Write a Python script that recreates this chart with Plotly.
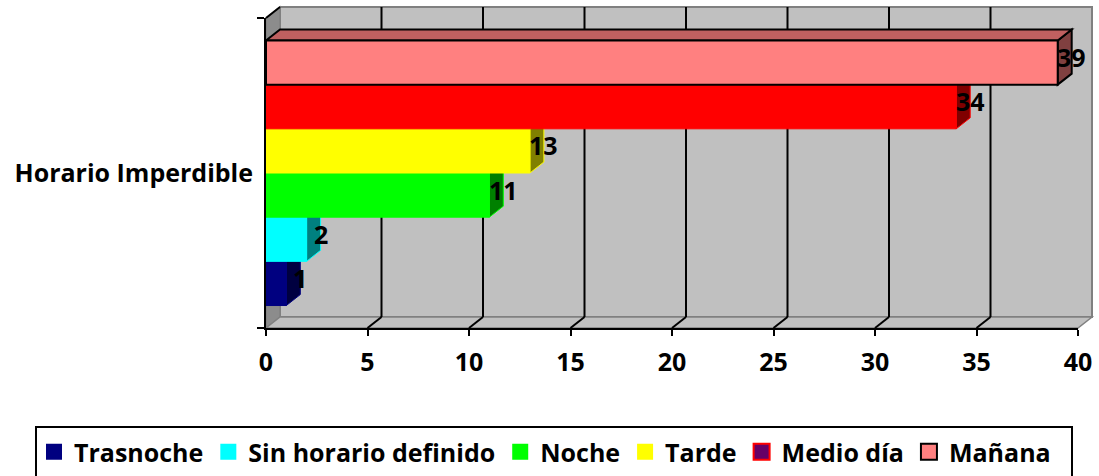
import plotly.graph_objects as go

# ---------------- data ----------------
CATEGORY = "Horario Imperdible"
SERIES = ["Trasnoche", "Sin horario definido", "Noche", "Tarde", "Medio día", "Mañana"]
VALUES = [1, 2, 11, 13, 34, 39]
X_TICKS = [0, 5, 10, 15, 20, 25, 30, 35, 40]

# ---------------- styles ----------------
FRONT = ["#000080", "#00FFFF", "#00FF00", "#FFFF00", "#FF0000", "#FF8080"]
SIDE = ["#000040", "#008080", "#008000", "#808000", "#800000", "#804040"]
TOP = ["#000060", "#00C0C0", "#00C000", "#C0C000", "#C00000", "#C06060"]
OUTLINE = ["#000080", "#00FFFF", "#00FF00", "#FFFF00", "#FF0000", "#000000"]
OUTLINE_W = [1, 1, 1, 1, 1, 2]
LEGEND_FILL = ["#000080", "#00FFFF", "#00FF00", "#FFFF00", "#660066", "#FF8080"]
LEGEND_LINE = ["#000080", "#00FFFF", "#00FF00", "#FFFF00", "#FF0000", "#000000"]
LEGEND_LINE_W = [0, 0, 0, 0, 2, 2]

FONT = dict(family="Open Sans", size=25, color="#000000", weight="bold")

W, H = 1099, 476
FX0, FX1 = 266, 1078      # front plane, x pixels
FY0, FY1 = 18, 328        # front plane, y pixels (top, bottom)
DX, DY = 14, 11           # 3-D depth offset in pixels
BX0, BX1 = FX0 + DX, FX1 + DX
BY0, BY1 = FY0 - DY, FY1 - DY
BARGAP = 0.145
XMIN, XMAX = X_TICKS[0], X_TICKS[-1]


def px(x):
    return x / W


def py(y):
    return 1 - y / H


# depth offset in data units of the front axes
dxu = DX * (XMAX - XMIN) / (FX1 - FX0)
dyu = DY * 1.0 / (FY1 - FY0)

fig = go.Figure()

# keep the back-wall subplot alive
fig.add_trace(go.Scatter(x=[None], y=[None], xaxis="x", yaxis="y", showlegend=False,
                         hoverinfo="skip"))

n = len(VALUES)
group = 1 - BARGAP
bw = group / n

shapes = []
# walls (paper, lowest layer)
shapes.append(dict(type="rect", xref="paper", yref="paper", layer="below",
                   x0=px(BX0), x1=px(BX1), y0=py(BY1), y1=py(BY0),
                   fillcolor="#C0C0C0", line=dict(color="#808080", width=2)))
shapes.append(dict(type="path", xref="paper", yref="paper", layer="below",
                   path=f"M{px(FX0)},{py(FY0)} L{px(BX0)},{py(BY0)} L{px(BX0)},{py(BY1)} L{px(FX0)},{py(FY1)} Z",
                   fillcolor="#8C8C8C", line=dict(color="#808080", width=1.5)))
shapes.append(dict(type="path", xref="paper", yref="paper", layer="below",
                   path=f"M{px(FX0)},{py(FY1)} L{px(BX0)},{py(BY1)} L{px(BX1)},{py(BY1)} L{px(FX1)},{py(FY1)} Z",
                   fillcolor="#C0C0C0", line=dict(color="#808080", width=1.5)))
# back-wall grid lines
for t in X_TICKS[1:-1]:
    shapes.append(dict(type="line", xref="x", yref="paper", layer="below",
                       x0=t, x1=t, y0=py(BY1), y1=py(BY0),
                       line=dict(color="#000000", width=2)))
# top edge of the left wall
shapes.append(dict(type="line", xref="paper", yref="paper", layer="above",
                   x0=px(FX0), y0=py(FY0), x1=px(BX0), y1=py(BY0),
                   line=dict(color="#000000", width=2)))
# slanted floor lines at each tick
for t in X_TICKS[1:-1]:
    shapes.append(dict(type="line", xref="x2", yref="paper", layer="above",
                       x0=t, y0=py(FY1), x1=t + dxu, y1=py(BY1),
                       line=dict(color="#000000", width=2)))

annotations = []
for i, (name, v) in enumerate(zip(SERIES, VALUES)):
    y0 = -group / 2 + i * bw
    y1 = y0 + bw
    # side face
    shapes.append(dict(type="path", xref="x2", yref="y2", layer="below",
                       path=f"M{v},{y0} L{v + dxu},{y0 + dyu} L{v + dxu},{y1 + dyu} L{v},{y1} Z",
                       fillcolor=SIDE[i], line=dict(color=OUTLINE[i], width=OUTLINE_W[i])))
    # top face
    shapes.append(dict(type="path", xref="x2", yref="y2", layer="below",
                       path=f"M{XMIN},{y1} L{v},{y1} L{v + dxu},{y1 + dyu} L{XMIN + dxu},{y1 + dyu} Z",
                       fillcolor=TOP[i], line=dict(color=OUTLINE[i], width=OUTLINE_W[i])))
    fig.add_trace(go.Bar(
        x=[v], y=[CATEGORY], orientation="h", name=name,
        marker=dict(color=FRONT[i], line=dict(color=OUTLINE[i], width=OUTLINE_W[i])),
        showlegend=False, xaxis="x2", yaxis="y2", hoverinfo="x+name"))
    annotations.append(dict(xref="x2", yref="y2", x=v + dxu, y=(y0 + y1) / 2 + dyu / 2,
                            text=str(v), showarrow=False, xanchor="center", yanchor="middle",
                            font=FONT))

# legend entries
for i, name in enumerate(SERIES):
    fig.add_trace(go.Scatter(
        x=[None], y=[None], mode="markers", name=name, xaxis="x2", yaxis="y2",
        marker=dict(symbol="square", size=16, color=LEGEND_FILL[i],
                    line=dict(color=LEGEND_LINE[i], width=LEGEND_LINE_W[i]))))

# legend frame
shapes.append(dict(type="rect", xref="paper", yref="paper", layer="above",
                   x0=px(36), x1=px(1072), y0=py(495), y1=py(427),
                   line=dict(color="#000000", width=2), fillcolor="rgba(0,0,0,0)"))

fig.update_layout(
    width=W, height=H, autosize=False,
    margin=dict(l=0, r=0, t=0, b=0, autoexpand=False),
    paper_bgcolor="#FFFFFF", plot_bgcolor="rgba(0,0,0,0)",
    font=FONT,
    barmode="group", bargap=BARGAP, bargroupgap=0,
    xaxis=dict(domain=[px(BX0), px(BX1)], range=[XMIN, XMAX], tickvals=X_TICKS[1:-1],
               showgrid=False, showticklabels=False, automargin=False,
               ticks="", zeroline=False, showline=False, anchor="y", fixedrange=True),
    yaxis=dict(domain=[py(BY1), py(BY0)], range=[0, 1], showgrid=False, automargin=False,
               showticklabels=False, zeroline=False, showline=False, anchor="x", fixedrange=True),
    xaxis2=dict(domain=[px(FX0), px(FX1)], range=[XMIN, XMAX], tickvals=X_TICKS,
                showline=True, linecolor="#000000", linewidth=2, automargin=False,
                ticks="outside", ticklen=6, tickwidth=2, tickcolor="#000000",
                showgrid=False, zeroline=False, anchor="y2", tickfont=FONT,
                ticklabelstandoff=5, fixedrange=True),
    yaxis2=dict(domain=[py(FY1), py(FY0)], type="category", range=[-0.5, 0.5],
                showline=True, linecolor="#000000", linewidth=2, automargin=False,
                ticks="outside", tickson="boundaries", ticklen=7, tickwidth=2,
                tickcolor="#000000", showgrid=False, zeroline=False, anchor="x2",
                tickfont=FONT, ticklabelstandoff=6, fixedrange=True),
    legend=dict(orientation="h", x=px(34), xanchor="left", y=py(452), yanchor="middle",
                font=FONT, bgcolor="rgba(0,0,0,0)", borderwidth=0, traceorder="normal"),
    shapes=shapes,
    annotations=annotations,
)

fig.write_html(
    "out.html",
    config={"displayModeBar": False, "responsive": False},
    post_script="document.body.style.margin='0';document.body.style.overflow='hidden';",
)
